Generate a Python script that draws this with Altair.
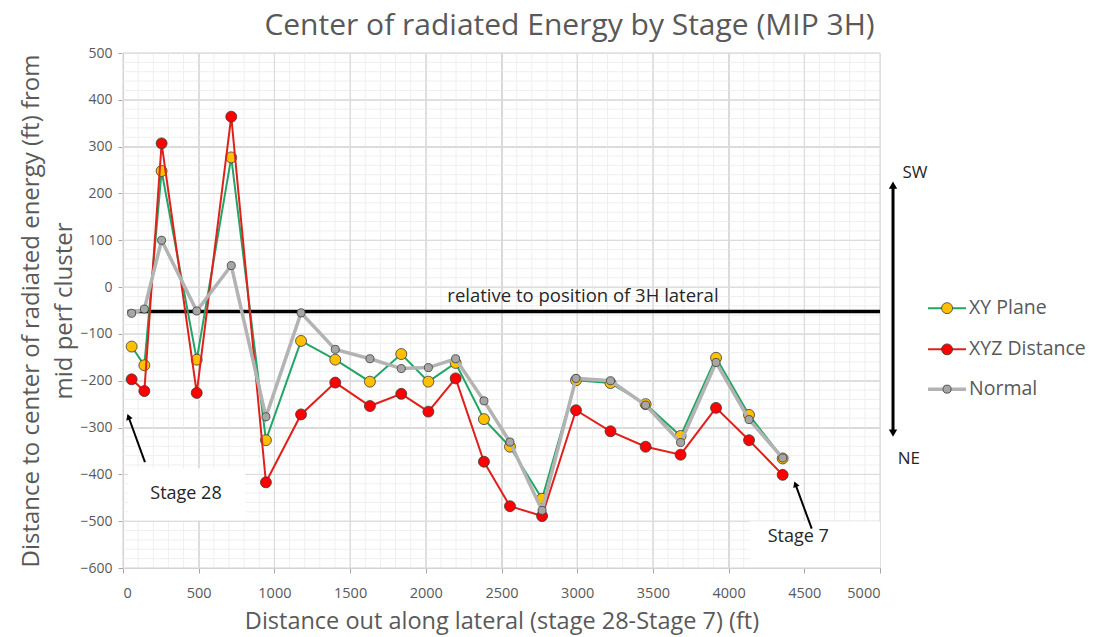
import altair as alt
import pandas as pd
import numpy as np

# ---------------- data ----------------
x_ft = [57, 141, 255, 487, 715, 944, 1176, 1402, 1631, 1838, 2017, 2197,
        2384, 2556, 2768, 2992, 3220, 3452, 3683, 3917, 4135, 4357]
xy_plane = [-127, -167, 248, -155, 277, -327, -115, -155, -202, -143, -202, -162,
            -282, -341, -452, -199, -205, -250, -318, -151, -273, -366]
xyz_distance = [-197, -222, 307, -226, 364, -417, -272, -204, -254, -228, -266, -195,
                -373, -468, -489, -263, -308, -341, -358, -258, -327, -401]
normal = [-56, -47, 100, -51, 46, -277, -55, -133, -153, -174, -172, -153,
          -243, -331, -477, -195, -200, -252, -332, -161, -283, -365]
series_names = ["XY Plane", "XYZ Distance", "Normal"]
x_ticks = [0, 500, 1000, 1500, 2000, 2500, 3000, 3500, 4000, 4500, 5000]
y_ticks = [-600, -500, -400, -300, -200, -100, 0, 100, 200, 300, 400, 500]
lateral_y = -52

FONT = "Open Sans"
TXT = "#595959"

xs = alt.Scale(domain=[0, 5000], nice=False, zero=False)
ys = alt.Scale(domain=[-600, 500], nice=False, zero=False)

x_axis = alt.Axis(title="Distance out along lateral (stage 28-Stage 7) (ft)", values=x_ticks,
                  grid=True, gridColor="#d9d9d9", gridWidth=1, domainColor="#a6a6a6",
                  tickColor="#a6a6a6", tickSize=5, labelColor=TXT, labelFont=FONT,
                  labelFontSize=14.5, labelPadding=13, titleFont=FONT, titleFontSize=23.5,
                  titleColor=TXT, titleFontWeight="normal", titlePadding=10, format="d")
y_axis = alt.Axis(title=["Distance to center of radiated energy (ft) from", "mid perf cluster"],
                  values=y_ticks, grid=True, gridColor="#d9d9d9", gridWidth=1,
                  domainColor="#a6a6a6", tickColor="#a6a6a6", tickSize=5, labelColor=TXT,
                  labelFont=FONT, labelFontSize=14, labelPadding=6, titleFont=FONT,
                  titleFontSize=24, titleColor=TXT, titleFontWeight="normal",
                  titlePadding=3, titleLineHeight=33, format="d")


def X(f):
    return alt.X(f, type="quantitative", scale=xs, axis=x_axis)


def Y(f):
    return alt.Y(f, type="quantitative", scale=ys, axis=y_axis)


# minor grid
vgrid = pd.DataFrame({"x": np.arange(0, 5001, 100), "y0": -600, "y1": 500})
hgrid = pd.DataFrame({"y": np.arange(-600, 501, 20), "x0": 0, "x1": 5000})
minor_v = alt.Chart(vgrid).mark_rule(color="#efefef", strokeWidth=1).encode(
    x=X("x"), y=Y("y0"), y2="y1")
minor_h = alt.Chart(hgrid).mark_rule(color="#efefef", strokeWidth=1).encode(
    y=Y("y"), x=X("x0"), x2="x1")
major_v = alt.Chart(pd.DataFrame({"x": x_ticks, "y0": -600, "y1": 500})).mark_rule(
    color="#d9d9d9", strokeWidth=1).encode(x=X("x"), y=Y("y0"), y2="y1")
major_h = alt.Chart(pd.DataFrame({"y": y_ticks, "x0": 0, "x1": 5000})).mark_rule(
    color="#d9d9d9", strokeWidth=1).encode(y=Y("y"), x=X("x0"), x2="x1")

# white label boxes
boxes = pd.DataFrame({"x0": [33, 4140], "x1": [806, 5000], "y0": [-387, -500], "y1": [-498, -598]})
box_layer = alt.Chart(boxes).mark_rect(color="white").encode(
    x=X("x0"), x2="x1", y=Y("y0"), y2="y1")

# lateral line
lat = pd.DataFrame({"x0": [30], "x1": [5000], "y": [lateral_y]})
lat_layer = alt.Chart(lat).mark_rule(color="black", strokeWidth=3.5).encode(
    x=X("x0"), x2="x1", y=Y("y"))
lat_text = alt.Chart(pd.DataFrame({"x": [3038], "y": [-19], "t": ["relative to position of 3H lateral"]})).mark_text(
    font=FONT, fontSize=18.5, color="#262626").encode(x=X("x"), y=Y("y"), text="t:N")

# series
df = pd.DataFrame({"x": x_ft, "XY Plane": xy_plane, "XYZ Distance": xyz_distance, "Normal": normal})
styles = {
    "XY Plane": dict(line="#22a565", lw=2, fill="#ffc000", size=120),
    "XYZ Distance": dict(line="#e0201b", lw=2, fill="#ff0000", size=120),
    "Normal": dict(line="#b3b3b3", lw=3.5, fill="#a6a6a6", size=65),
}
series_layers = []
for s in series_names:
    st = styles[s]
    series_layers.append(alt.Chart(df).mark_line(color=st["line"], strokeWidth=st["lw"]).encode(
        x=X("x"), y=Y(s)))
    series_layers.append(alt.Chart(df).mark_point(filled=True, fill=st["fill"], stroke="#3a3a3a",
                                                  strokeWidth=0.8, size=st["size"], opacity=1).encode(
        x=X("x"), y=Y(s)))

# arrows
arrows = pd.DataFrame({"x0": [145, 4549], "y0": [-374, -516], "x1": [36, 4441], "y1": [-277, -421]})
arrow_lines = alt.Chart(arrows).mark_rule(color="black", strokeWidth=2).encode(
    x=X("x0"), x2="x1", y=Y("y0"), y2="y1")
arrow_heads = alt.Chart(arrows).mark_point(shape="triangle-up", filled=True, color="black",
                                           size=45, angle=340, opacity=1).encode(x=X("x1"), y=Y("y1"))
stage_text = alt.Chart(pd.DataFrame({"x": [416, 4460], "y": [-443, -534], "t": ["Stage 28", "Stage 7"]})).mark_text(
    font=FONT, fontSize=18, color="#262626").encode(x=X("x"), y=Y("y"), text="t:N")

# SW / NE double arrow
dbl = pd.DataFrame({"x": [5086], "y0": [218], "y1": [-312]})
dbl_line = alt.Chart(dbl).mark_rule(color="black", strokeWidth=3).encode(x=X("x"), y=Y("y0"), y2="y1")
dbl_up = alt.Chart(dbl).mark_point(shape="triangle-up", filled=True, color="black", size=70,
                                   opacity=1).encode(x=X("x"), y=Y("y0"))
dbl_dn = alt.Chart(dbl).mark_point(shape="triangle-down", filled=True, color="black", size=70,
                                   opacity=1).encode(x=X("x"), y=Y("y1"))
dir_text = alt.Chart(pd.DataFrame({"x": [5231, 5191], "y": [244, -368], "t": ["SW", "NE"]})).mark_text(
    font=FONT, fontSize=17, color="#262626").encode(x=X("x"), y=Y("y"), text="t:N")

# manual legend
leg = pd.DataFrame({"name": series_names, "y": [-45, -133, -218], "x0": 5317, "x1": 5568,
                    "xc": 5443, "xt": 5588})
legend_layers = []
for i, s in enumerate(series_names):
    st = styles[s]
    sub = leg[leg["name"] == s]
    legend_layers.append(alt.Chart(sub).mark_rule(color=st["line"], strokeWidth=st["lw"]).encode(
        x=X("x0"), x2="x1", y=Y("y")))
    legend_layers.append(alt.Chart(sub).mark_point(filled=True, fill=st["fill"], stroke="#3a3a3a",
                                                   strokeWidth=0.8, size=st["size"], opacity=1).encode(
        x=X("xc"), y=Y("y")))
legend_text = alt.Chart(leg).mark_text(font=FONT, fontSize=19.5, color=TXT, align="left").encode(
    x=X("xt"), y=Y("y"), text="name:N")

chart = alt.layer(
    minor_v, minor_h, major_v, major_h, box_layer, lat_layer, lat_text,
    *series_layers, arrow_lines, arrow_heads, stage_text,
    dbl_line, dbl_up, dbl_dn, dir_text, *legend_layers, legend_text
).properties(
    width=757, height=515,
    title=alt.TitleParams("Center of radiated Energy by Stage (MIP 3H)", font=FONT, fontSize=30,
                          color=TXT, fontWeight="normal", anchor="middle", dx=68, offset=5),
    autosize=alt.AutoSizeParams(type="none"),
    padding={"left": 115, "top": 45, "right": 208, "bottom": 69},
).configure_view(stroke=None)

chart.save("out.html", embed_options={"renderer": "svg", "actions": False})
